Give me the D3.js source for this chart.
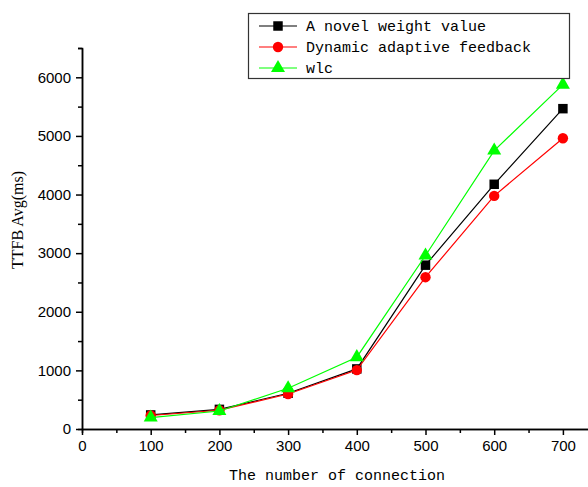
<!DOCTYPE html>
<meta charset="UTF-8">
<style>
    body { margin: 0; background: #fff; }
    .tick text { font-family: "Liberation Sans", Arial, sans-serif; font-size: 15px; fill: #000; }
    .domain, .tick line { stroke: #000; stroke-width: 1.5; }
</style>
<body>
<div id="chart"></div>
<script src="https://d3js.org/d3.v7.min.js"></script>
<script>
// chart data
var connections = [100, 200, 300, 400, 500, 600, 700];
var novelWeight = [240, 335, 610, 1025, 2795, 4175, 5465];
var dynamicFeedback = [230, 320, 597, 1005, 2590, 3977, 4960];
var wlc = [195, 307, 695, 1225, 2960, 4750, 5875];
var seriesNames = ["A novel weight value", "Dynamic adaptive feedback", "wlc"];
var xTicks = [0, 100, 200, 300, 400, 500, 600, 700];
var yTicks = [0, 1000, 2000, 3000, 4000, 5000, 6000];

var width = 588, height = 487;
var margin = {top: 48, left: 82, bottom: 58};

var x = d3.scaleLinear().domain([0, 750]).range([margin.left, margin.left + 750 * 0.687]);
var y = d3.scaleLinear().domain([0, 6500]).range([height - margin.bottom, margin.top]);

var svg = d3.select("#chart").append("svg")
    .attr("width", width)
    .attr("height", height);

// minor ticks
svg.append("g")
    .attr("transform", "translate(0," + y(0) + ")")
    .call(d3.axisBottom(x).tickValues(d3.range(50, 750, 100)).tickSize(4).tickFormat(""));
svg.append("g")
    .attr("transform", "translate(" + x(0) + ",0)")
    .call(d3.axisLeft(y).tickValues(d3.range(500, 7000, 1000)).tickSize(4).tickFormat(""));

// main axes
svg.append("g")
    .attr("transform", "translate(0," + y(0) + ")")
    .call(d3.axisBottom(x).tickValues(xTicks).tickSize(6).tickSizeOuter(0).tickPadding(5).tickFormat(d3.format("d")));
svg.append("g")
    .attr("transform", "translate(" + x(0) + ",0)")
    .call(d3.axisLeft(y).tickValues(yTicks).tickSize(6).tickSizeOuter(0).tickPadding(5).tickFormat(d3.format("d")));

// axis titles
svg.append("text")
    .attr("x", 337).attr("y", 480)
    .attr("text-anchor", "middle")
    .style("font-family", "Liberation Mono, monospace")
    .style("font-size", "15px")
    .text("The number of connection");
svg.append("text")
    .attr("transform", "translate(23," + 220 + ") rotate(-90)")
    .attr("text-anchor", "middle")
    .style("font-family", "Liberation Serif, serif")
    .style("font-size", "16px")
    .text("TTFB Avg(ms)");

var series = [
    {name: seriesNames[0], values: novelWeight, color: "#000000", shape: "square"},
    {name: seriesNames[1], values: dynamicFeedback, color: "#ff0000", shape: "circle"},
    {name: seriesNames[2], values: wlc, color: "#00ff00", shape: "triangle"}
];

var symbols = {square: d3.symbolSquare, circle: d3.symbolCircle, triangle: d3.symbolTriangle};
var sizes = {square: 90, circle: 85, triangle: 85};

var line = d3.line()
    .x(function(d, i) { return x(connections[i]); })
    .y(function(d) { return y(d); });

series.forEach(function(s) {
    svg.append("path")
        .attr("d", line(s.values))
        .attr("fill", "none")
        .attr("stroke", s.color)
        .attr("stroke-width", 1.2);
    svg.selectAll(".pt-" + s.shape)
        .data(s.values)
        .enter().append("path")
        .attr("transform", function(d, i) { return "translate(" + x(connections[i]) + "," + y(d) + ")"; })
        .attr("d", d3.symbol().type(symbols[s.shape]).size(sizes[s.shape]))
        .attr("fill", s.color);
});

// legend
var legend = svg.append("g");
legend.append("rect")
    .attr("x", 248.5).attr("y", 13.5)
    .attr("width", 321).attr("height", 65)
    .attr("fill", "#fff")
    .attr("stroke", "#333")
    .attr("stroke-width", 1.2);
series.forEach(function(s, i) {
    var cy = 26 + i * 21;
    legend.append("line")
        .attr("x1", 259).attr("x2", 297)
        .attr("y1", cy).attr("y2", cy)
        .attr("stroke", s.color)
        .attr("stroke-width", 1.2);
    legend.append("path")
        .attr("transform", "translate(278," + cy + ")")
        .attr("d", d3.symbol().type(symbols[s.shape]).size(sizes[s.shape]))
        .attr("fill", s.color);
    legend.append("text")
        .attr("x", 306).attr("y", cy + 5)
        .style("font-family", "Liberation Mono, monospace")
        .style("font-size", "15px")
        .text(s.name);
});
</script>
</body>
